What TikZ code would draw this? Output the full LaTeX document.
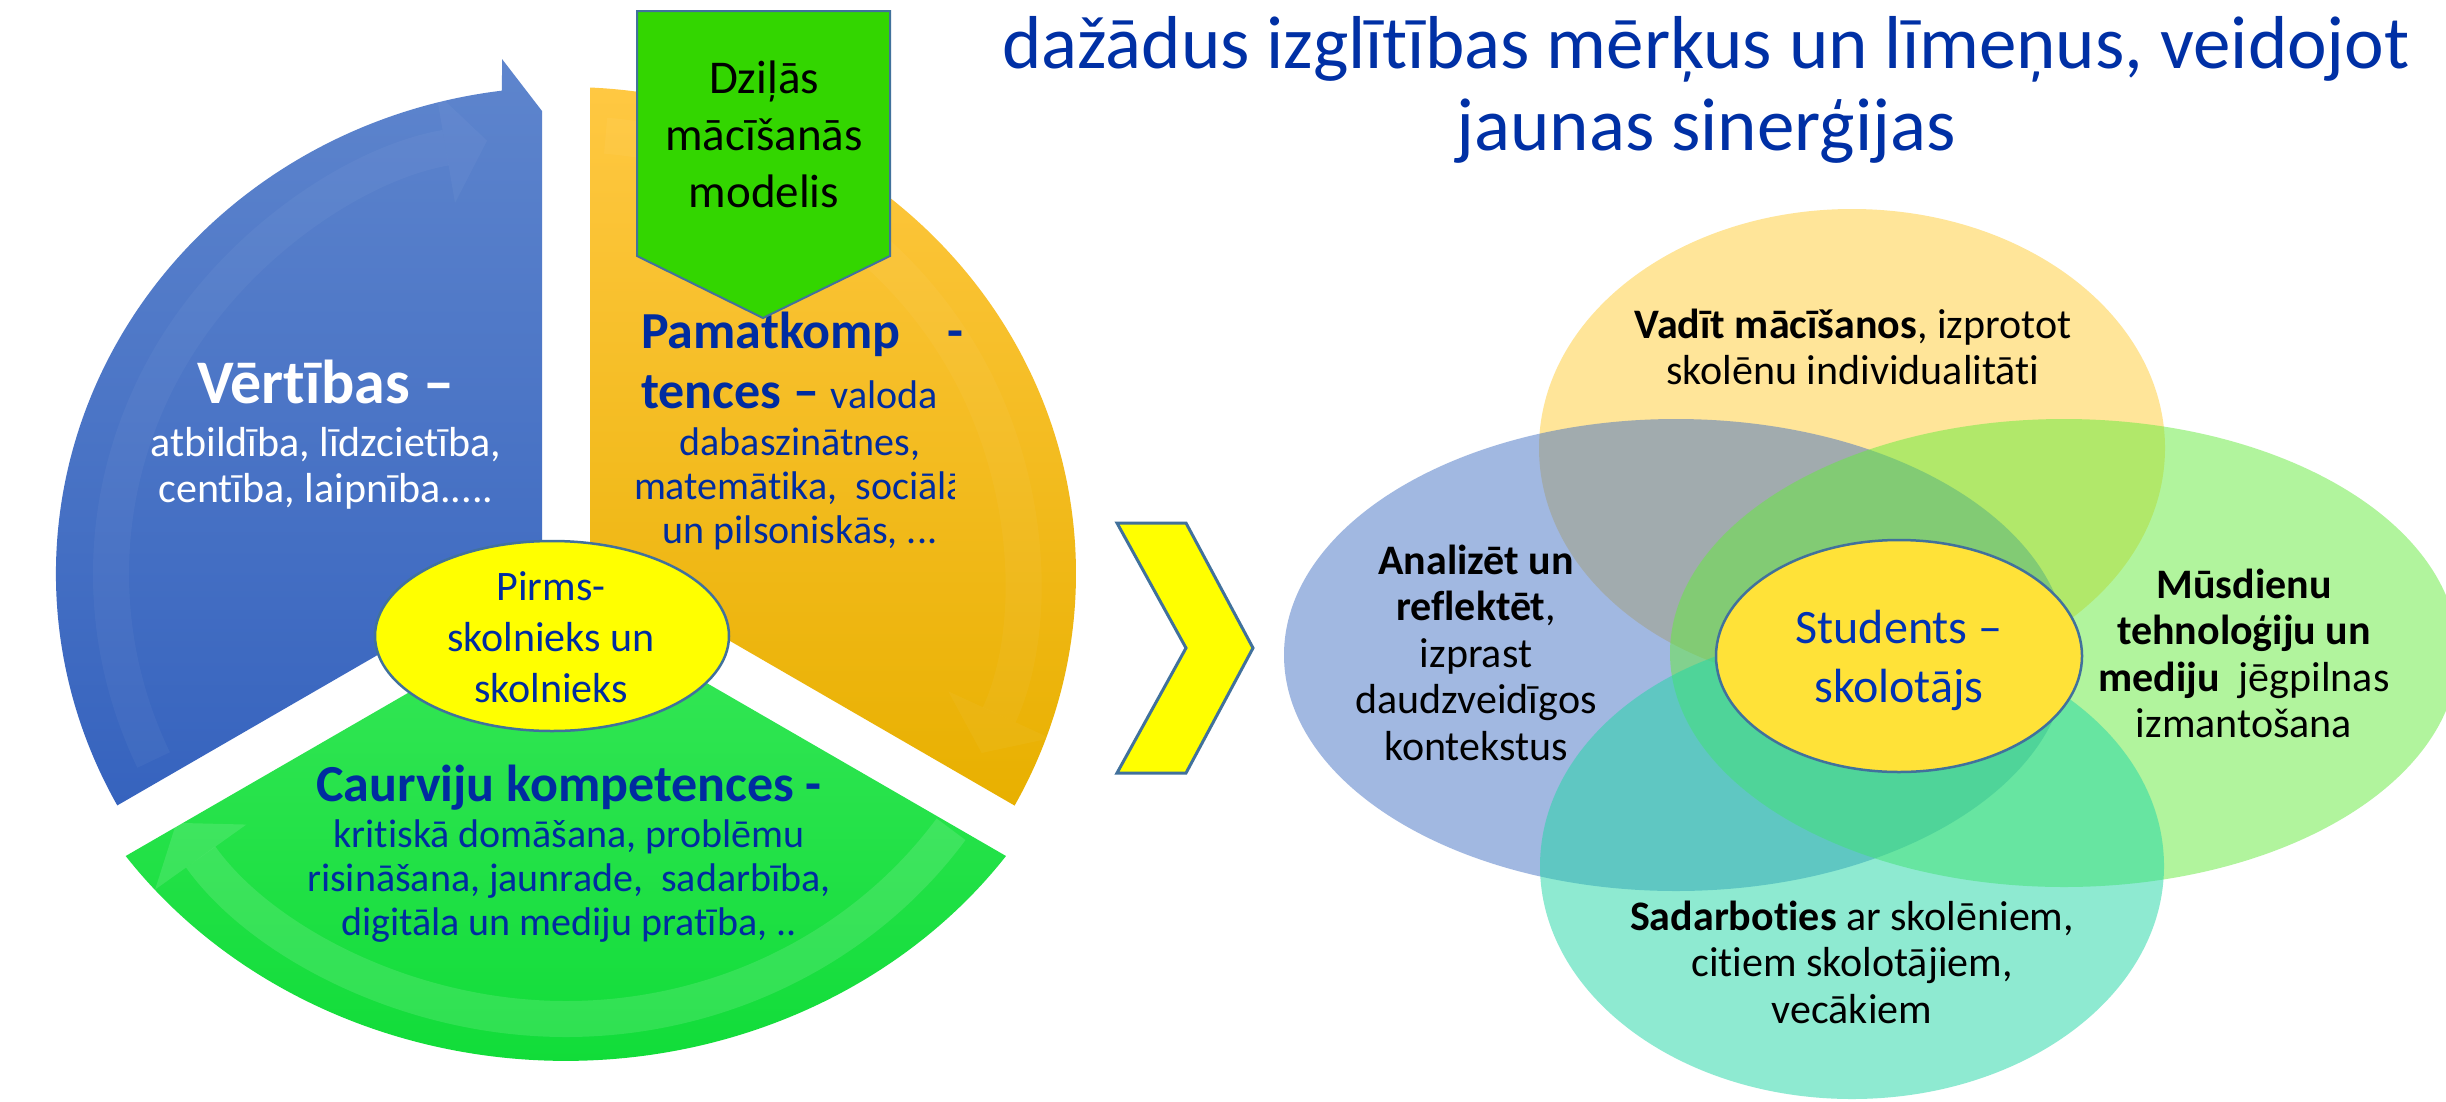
\documentclass[tikz,border=0pt]{standalone}
\usepackage{fontspec}
\setmainfont{Carlito}[Ligatures=NoCommon]
\usetikzlibrary{shapes.geometric,arrows.meta}
\definecolor{navy}{RGB}{0,44,160}
\definecolor{titleblue}{RGB}{0,48,165}
\definecolor{ringblueA}{RGB}{94,133,205}
\definecolor{ringblueB}{RGB}{54,99,190}
\definecolor{ringgoldA}{RGB}{255,200,66}
\definecolor{ringgoldB}{RGB}{232,176,0}
\definecolor{ringgreenA}{RGB}{55,231,88}
\definecolor{ringgreenB}{RGB}{16,220,56}
\definecolor{boxgreen}{RGB}{51,214,0}
\definecolor{edgeblue}{RGB}{65,113,156}
\definecolor{sunyellow}{RGB}{255,255,0}
\definecolor{coreyellow}{RGB}{255,226,56}
\definecolor{vennorange}{RGB}{255,192,0}
\definecolor{vennblue}{RGB}{68,114,196}
\definecolor{venngreen}{RGB}{100,235,60}
\definecolor{vennteal}{RGB}{30,215,165}
\definecolor{coretext}{RGB}{0,50,180}
\begin{document}
\begin{tikzpicture}[x=1pt, y=1pt,
		head/.style = {anchor=base, inner sep=0, text=navy, font=\bfseries\fontsize{52}{60}\selectfont},
		body/.style = {anchor=base, inner sep=0, align=center, text=navy, font=\fontsize{40}{44}\selectfont},
		venn/.style = {anchor=base, inner sep=0, align=center, font=\fontsize{42}{46.5}\selectfont},
		glow/.style = {white, opacity=0.12, line width=36pt, -{Triangle[length=42pt, width=112pt, line width=0pt]}},
		blob/.style = {ellipse, draw=edgeblue, line width=2.5pt, inner sep=0}]
		\useasboundingbox[fill=white] (0,0) rectangle (2446,-1101);
		\shade[top color=ringblueA, bottom color=ringblueB] (502,-59) -- (542,-111) -- (542,-560) -- (117.3,-805.4) arc[start angle=208.4, end angle=97.2, x radius=510, y radius=487] -- cycle;
		\shade[top color=ringgoldA, bottom color=ringgoldB] (590,-560) -- (590,-87.5) arc[start angle=87.3, end angle=-28.4, x radius=510, y radius=487] -- cycle;
		\shade[top color=ringgreenA, bottom color=ringgreenB] (566,-601.7) -- (125.7,-856) arc[start angle=215.4, end angle=324.6, x radius=540, y radius=487] -- cycle;
		\draw[glow, opacity=0.04] (566,-574) ++(205:455 and 440) arc[start angle=205, end angle=100, x radius=455, y radius=440];
		\draw[glow, opacity=0.04] (566,-574) ++(85:455 and 440) arc[start angle=85, end angle=-24, x radius=455, y radius=440];
		\draw[glow] (566,-574) ++(325:470 and 445) arc[start angle=325, end angle=214, x radius=470, y radius=445];
		\node[anchor=base, inner sep=0, text=white, font=\bfseries\fontsize{62}{70}\selectfont] (vert) at (326,-403) {Vērtības –};
		\node[body, text=white, font=\fontsize{42}{46}\selectfont] (vertbody) at (326,-502) {atbildība, līdzcietība,\\centība, laipnība.....};
		\begin{scope}
			\clip (600,-290) -- (1000,-290) -- (1000,-362) -- (934,-362) -- (934,-468) -- (954,-468) -- (954,-515) -- (1000,-515) -- (1000,-560) -- (600,-560) -- cycle;
			\node[anchor=base west, inner sep=0, align=left, text=navy, font=\fontsize{40}{60}\selectfont] (pamat) at (641,-408) {{\bfseries\fontsize{52}{60}\selectfont Pamatkomp\hspace{47pt}-}\\{\bfseries\fontsize{52}{60}\selectfont tences – }valoda,};
			\node[body] (pamatbody) at (800,-543) {dabaszinātnes,\\matemātika,~ sociālā\\un pilsoniskās, ...};
		\end{scope}
		\filldraw[fill=boxgreen, draw=edgeblue, line width=2pt] (637,-11) -- (890,-11) -- (890,-256) -- (763,-318) -- (637,-256) -- cycle;
		\node[anchor=base, inner sep=0, align=center, font=\fontsize{47}{57}\selectfont] (model) at (764,-207) {Dziļās\\mācīšanās\\modelis};
		\node[head] (caur) at (569,-801) {Caurviju kompetences -};
		\node[body] (caurbody) at (569,-935) {kritiskā domāšana, problēmu\\risināšana, jaunrade,~ sadarbība,\\digitāla un mediju pratība, ..};
		\node[blob, fill=sunyellow, minimum width=354, minimum height=190] (pirms) at (552,-636) {};
		\node[anchor=base, inner sep=0, align=center, text=navy, font=\fontsize{42}{51}\selectfont] (pirmstxt) at (551,-702) {Pirms-\\skolnieks un\\skolnieks};
		\filldraw[fill=sunyellow, draw=edgeblue, line width=3pt] (1117,-523) -- (1186,-523) -- (1253,-648) -- (1186,-773) -- (1117,-773) -- (1186,-648) -- cycle;
		\node[anchor=base, inner sep=0, align=center, text=titleblue, font=\fontsize{75}{82}\selectfont] (title) at (1706,-150) {dažādus izglītības mērķus un līmeņus, veidojot\\jaunas sinerģijas};
		\fill[vennorange, fill opacity=0.4] (1852,-448) ellipse [x radius=313, y radius=239];
		\fill[vennblue, fill opacity=0.5] (1676,-655) ellipse [x radius=392, y radius=236];
		\fill[venngreen, fill opacity=0.5] (2064,-653) ellipse [x radius=394, y radius=234];
		\fill[vennteal, fill opacity=0.5] (1852,-866) ellipse [x radius=312, y radius=233];
		\node[blob, fill=coreyellow, minimum width=366, minimum height=232] (core) at (1899,-656) {};
		\node[anchor=base, inner sep=0, align=center, text=coretext, font=\fontsize{48}{59}\selectfont] (coretxt) at (1899,-702) {Students –\\skolotājs};
		\node[venn] (vadit) at (1853,-384.5) {\textbf{Vadīt mācīšanos}, izprotot\\skolēnu individualitāti};
		\node[venn] (analize) at (1476,-760) {\textbf{Analizēt un}\\\textbf{reflektēt},\\izprast\\daudzveidīgos\\kontekstus};
		\node[venn] (musdienu) at (2244,-737.5) {\textbf{Mūsdienu}\\\textbf{tehnoloģiju un}\\\textbf{mediju}~ jēgpilnas\\izmantošana};
		\node[venn] (sadarb) at (1852,-1023) {\textbf{Sadarboties} ar skolēniem,\\citiem skolotājiem,\\vecākiem};
	\end{tikzpicture}
\end{document}
